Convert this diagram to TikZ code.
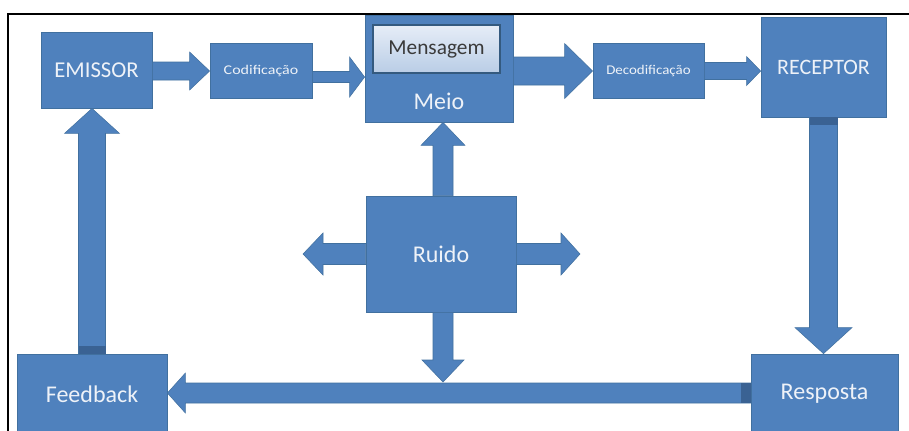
\documentclass[tikz,border=0pt]{standalone}
\usepackage{fontspec}
\setmainfont{Carlito}
\usetikzlibrary{calc}
\definecolor{boxblue}{HTML}{4F81BD}
\definecolor{edgeblue}{HTML}{41709F}
\definecolor{darkband}{HTML}{3A6293}
\definecolor{txtwhite}{HTML}{EEF2F8}
\definecolor{msgtop}{HTML}{E6EDF7}
\definecolor{msgbot}{HTML}{B9CDE6}
\definecolor{msgtxt}{HTML}{3A3A3A}
\tikzset{
  sz/.style 2 args={minimum width=#1*0.75pt, minimum height=#2*0.75pt},
  blk/.style={draw=edgeblue, line width=0.6pt, fill=boxblue, text=txtwhite, inner sep=0pt},
  lbl/.style={text=txtwhite, inner sep=0pt},
  blkarrow/.style={fill=boxblue, draw=edgeblue, line width=0.4pt},
  band/.style={fill=darkband},
  harrow/.style n args={3}{to path={let \p1=(\tikztostart), \p2=(\tikztotarget), \n1={sign(\x2-\x1)} in
    (\x1,{\y1+#1*0.75pt}) -- ({\x2-\n1*#3*0.75pt},{\y1+#1*0.75pt}) -- ({\x2-\n1*#3*0.75pt},{\y1+#2*0.75pt})
    -- (\x2,\y1) -- ({\x2-\n1*#3*0.75pt},{\y1-#2*0.75pt}) -- ({\x2-\n1*#3*0.75pt},{\y1-#1*0.75pt})
    -- (\x1,{\y1-#1*0.75pt}) -- cycle}},
  varrow/.style n args={3}{to path={let \p1=(\tikztostart), \p2=(\tikztotarget), \n1={sign(\y2-\y1)} in
    ({\x1+#1*0.75pt},\y1) -- ({\x1+#1*0.75pt},{\y2-\n1*#3*0.75pt}) -- ({\x1+#2*0.75pt},{\y2-\n1*#3*0.75pt})
    -- (\x1,\y2) -- ({\x1-#2*0.75pt},{\y2-\n1*#3*0.75pt}) -- ({\x1-#1*0.75pt},{\y2-\n1*#3*0.75pt})
    -- ({\x1-#1*0.75pt},\y1) -- cycle}},
}
\begin{document}
\begin{tikzpicture}[x=0.75pt, y=-0.75pt]
\useasboundingbox (0,0) rectangle (909,430);
\fill[white] (0,0) rectangle (909,430);
% frame
\draw[line width=1.3pt] (8,432) -- (8,14) -- (911,14);

% boxes
\node[blk, sz={111}{76}, font=\fontsize{17}{17}\selectfont] (emissor) at (96.5,70) {EMISSOR};
\node[blk, sz={102}{55}, font=\fontsize{10}{10}\selectfont] (cod) at (261,70.5) {\scalebox{1.2}[1]{Codificação}};
\node[blk, sz={148}{107}] (meio) at (439,68.5) {};
\node[draw=edgeblue!80!black, line width=0.8pt, top color=msgtop, bottom color=msgbot, text=msgtxt, inner sep=0pt, sz={127}{48}, font=\fontsize{16}{16}\selectfont] (msg) at (436.5,49) {Mensagem};
\node[lbl, font=\fontsize{18}{18}\selectfont] (meiolbl) at (439,101) {Meio};
\node[blk, sz={111}{55}, font=\fontsize{10}{10}\selectfont] (decod) at (648.5,70.5) {\scalebox{1.12}[1]{Decodificação}};
\node[blk, sz={125}{100}, font=\fontsize{16.5}{16.5}\selectfont] (receptor) at (823.5,67) {RECEPTOR};
\node[blk, sz={150}{116}, font=\fontsize{18}{18}\selectfont] (ruido) at (441,254) {Ruido};
\node[blk, sz={150}{80}, font=\fontsize{18}{18}\selectfont] (feedback) at (92,394) {Feedback};
\node[blk, sz={147}{80}, font=\fontsize{18}{18}\selectfont] (resposta) at (824.5,394) {Resposta};

% free ends of the noise arrows
\coordinate (nl) at (303,254);
\coordinate (nr) at (580,254);
\coordinate (nd) at (443,382);

% block arrows
\path[blkarrow] ($(emissor.east)+(0,1)$) to[harrow={9}{19}{20}] (cod.west);
\path[blkarrow] ($(cod.east)+(0,6.5)$) to[harrow={5.5}{20}{15}] (meio.west);
\path[blkarrow] ($(meio.east)+(0,2.5)$) to[harrow={14}{27.5}{28}] (decod.west);
\path[blkarrow] ($(decod.east)+(0,0.5)$) to[harrow={8.5}{14.5}{14}] (receptor.west);
\path[blkarrow] (receptor.south) to[varrow={14}{28.5}{26}] (resposta.north);
\path[blkarrow] ($(resposta.west)+(0,-1)$) to[harrow={10}{20}{18}] (feedback.east);
\path[blkarrow] (feedback.north) to[varrow={13.5}{27.5}{25}] (emissor.south);
\path[blkarrow] ($(ruido.north)+(2,0)$) to[varrow={10}{22}{23}] (meio.south);
\path[blkarrow] (ruido.west) to[harrow={10.5}{21}{20}] (nl);
\path[blkarrow] (ruido.east) to[harrow={10.5}{21}{19}] (nr);
\path[blkarrow] ($(ruido.south)+(2,0)$) to[varrow={10}{21}{22}] (nd);

% shadow bands where arrows meet boxes
\fill[band] ($(feedback.north)+(-13.5,-8)$) rectangle ($(feedback.north)+(13.5,0)$);
\fill[band] ($(receptor.south)+(-14,0)$) rectangle ($(receptor.south)+(14,8)$);
\fill[band] ($(resposta.west)+(-10,-11)$) rectangle ($(resposta.west)+(0,9)$);
\end{tikzpicture}
\end{document}
